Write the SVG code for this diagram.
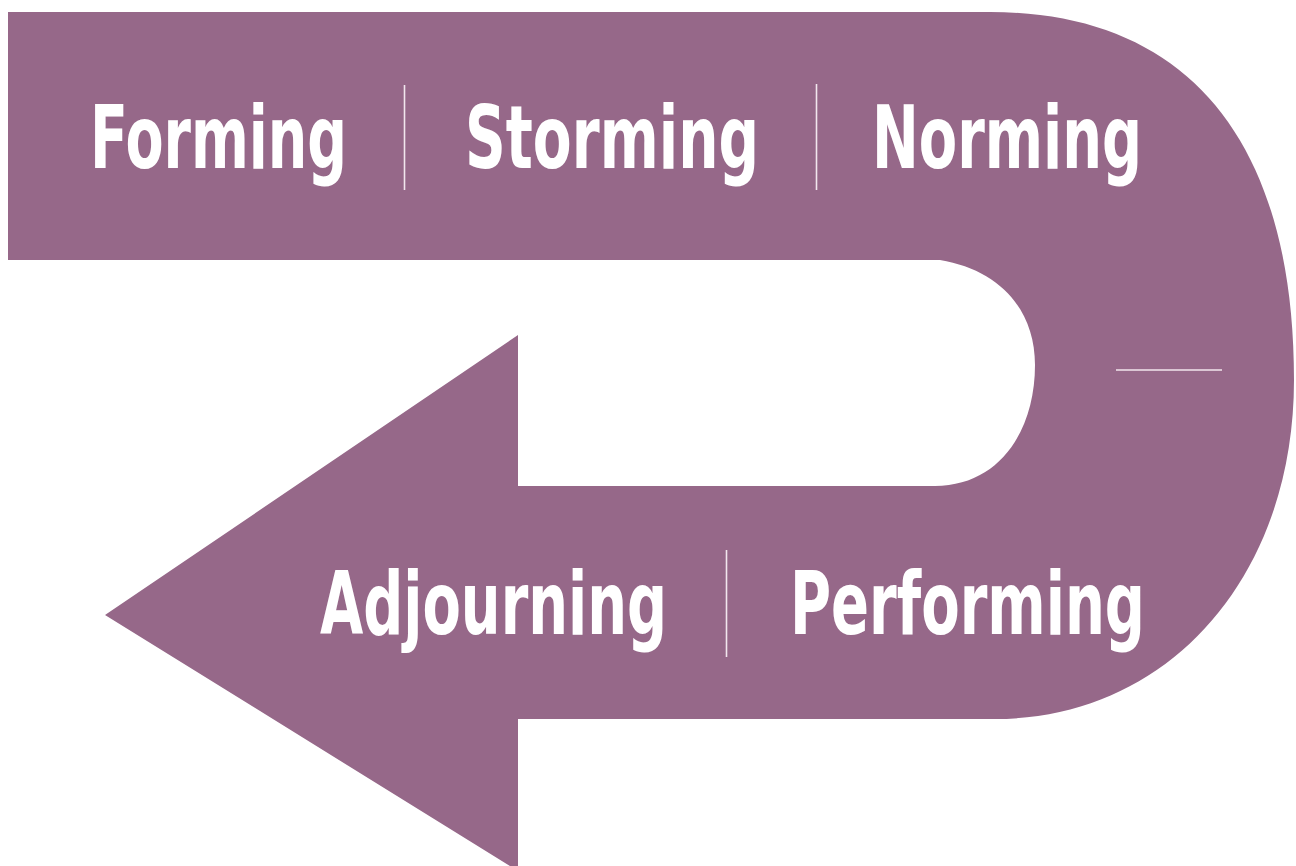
<svg xmlns="http://www.w3.org/2000/svg" width="1296" height="866" viewBox="0 0 1296 866">
<style>
.band{fill:#966889}
.lbl{font-family:"Liberation Sans Narrow","DejaVu Sans Condensed","Liberation Sans",sans-serif;font-weight:bold;font-size:88px;fill:#ffffff}
.div{stroke:#f2e6ee;stroke-width:1.6;fill:none}
</style>
<rect width="1296" height="866" fill="#ffffff"/>
<g id="arrow-shape">
<path class="band" d="M8,12 L990,12 C1188,12 1294,141 1294,380 C1294,577 1168,719 995,719 L518,719 L518,871 L105,615 L518,335 L518,486 L935,486 C1000,486 1035,430 1035,365 C1035,310 1000,270 940,260 L8,260 Z"/>
</g>
<g id="connectors">
<line class="div" x1="404.5" y1="85" x2="404.5" y2="190"/>
<line class="div" x1="816.5" y1="84" x2="816.5" y2="190"/>
<line class="div" x1="726.5" y1="550" x2="726.5" y2="657"/>
<line class="div" x1="1116" y1="370" x2="1222" y2="370"/>
</g>
<g id="forming"><text class="lbl" x="90" y="168" textLength="257" lengthAdjust="spacingAndGlyphs">Forming</text></g>
<g id="storming"><text class="lbl" x="465" y="168" textLength="294" lengthAdjust="spacingAndGlyphs">Storming</text></g>
<g id="norming"><text class="lbl" x="872" y="168" textLength="270" lengthAdjust="spacingAndGlyphs">Norming</text></g>
<g id="adjourning"><text class="lbl" x="320" y="634" textLength="347" lengthAdjust="spacingAndGlyphs">Adjourning</text></g>
<g id="performing"><text class="lbl" x="790" y="634" textLength="355" lengthAdjust="spacingAndGlyphs">Performing</text></g>
</svg>
